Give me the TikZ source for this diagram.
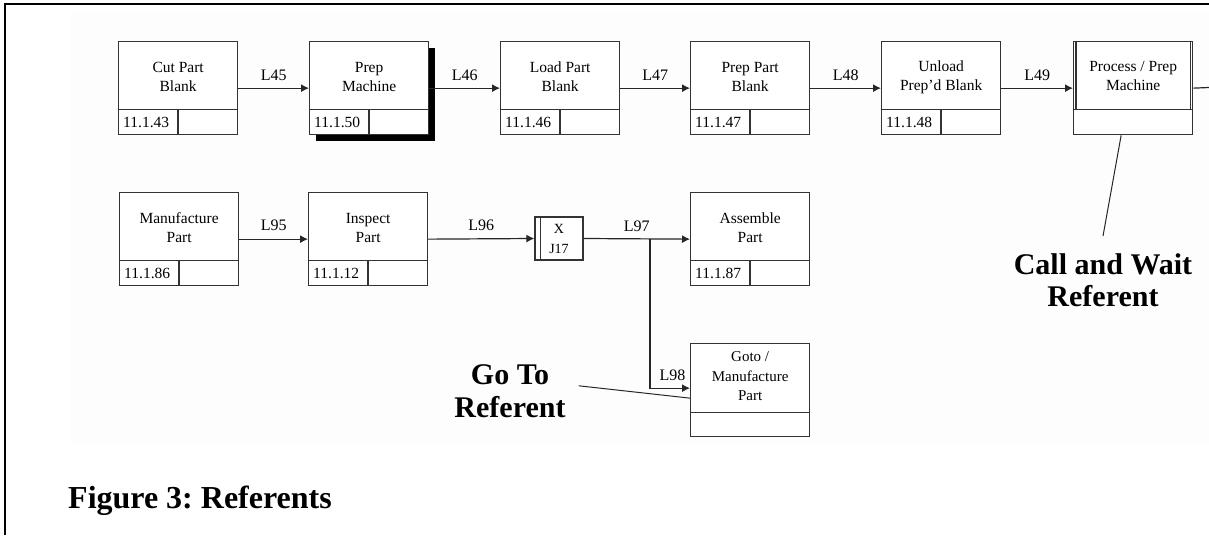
\documentclass[tikz,border=0pt]{standalone}
\usepackage{fontspec}
\setmainfont{Liberation Serif}
\usetikzlibrary{arrows.meta,shadows}
\frenchspacing
\tikzset{
  boxs/.style={draw=black!80, line width=1.3pt, fill=white, minimum width=119pt,
    minimum height=93pt, inner sep=0pt, anchor=north west},
  dline/.style={draw=black!80, line width=1.3pt},
  btext/.style={font=\fontsize{15.5}{19}\selectfont, align=center, inner sep=0pt},
  idtext/.style={font=\fontsize{15.5}{18}\selectfont, inner sep=1pt, anchor=west},
  flow/.style={draw=black!85, line width=1.2pt, -{Latex[length=8pt,width=8pt]}},
  plain/.style={draw=black!85, line width=1.2pt},
  lbl/.style={font=\fontsize{16}{18}\selectfont, inner sep=2pt},
  callout/.style={font=\bfseries\fontsize{30}{33}\selectfont, align=center, inner sep=1pt},
  leader/.style={draw=black!85, line width=1pt}
}
\newcommand{\idefbox}[6][]{%
  \node[boxs,#1] (#2) at (#3,#4) {};
  \draw[dline] ([yshift=26pt]#2.south west) -- ([yshift=26pt]#2.south east);
  \draw[dline] ([xshift=60pt,yshift=26pt]#2.south west) -- ([xshift=60pt]#2.south west);
  \node[btext] (#2t) at ([yshift=-36pt]#2.north) {#5};
  \node[idtext] (#2id) at ([xshift=4pt,yshift=13pt]#2.south west) {#6};
}
\begin{document}
\begin{tikzpicture}[x=1pt,y=-1pt]
\useasboundingbox (0,0) rectangle (1209,535);
\fill[gray!1.5] (70,12) rectangle (1209,443);
\draw[line width=1.5pt] (1209,4) -- (5,4) -- (5,535);

% top row
\idefbox{cut}{118}{41}{Cut Part\\Blank}{11.1.43}
\idefbox[drop shadow={shadow xshift=6pt, shadow yshift=-6pt, fill=black, opacity=1}]{prep}{309}{41}{Prep\\Machine}{11.1.50}
\idefbox{load}{500}{41}{Load Part\\Blank}{11.1.46}
\idefbox{prepb}{690}{41}{Prep Part\\Blank}{11.1.47}
\idefbox{unload}{881}{41}{Unload\\Prep'd Blank}{11.1.48}

\node[boxs] (proc) at (1073,41) {};
\draw[dline] ([yshift=26pt]proc.south west) -- ([yshift=26pt]proc.south east);
\draw[dline] ([xshift=3pt]proc.north west) -- ([xshift=3pt,yshift=26pt]proc.south west);
\draw[dline] ([xshift=-3pt]proc.north east) -- ([xshift=-3pt,yshift=26pt]proc.south east);
\node[btext] (proct) at ([yshift=-35pt]proc.north) {Process / Prep\\Machine};

\draw[flow] (cut.east) -- (prep.west) node[lbl, midway, above=5pt] {L45};
\draw[flow] (prep.east) -- (load.west) node[lbl, midway, above=5pt] {L46};
\draw[flow] (load.east) -- (prepb.west) node[lbl, midway, above=5pt] {L47};
\draw[flow] (prepb.east) -- (unload.west) node[lbl, midway, above=5pt] {L48};
\draw[flow] (unload.east) -- (proc.west) node[lbl, midway, above=5pt] {L49};
\coordinate (procout) at (1209,87.5);
\draw[plain] (proc.east) -- (procout);

% second row
\idefbox{mfg}{119}{192}{Manufacture\\Part}{11.1.86}
\idefbox{insp}{308}{192}{Inspect\\Part}{11.1.12}
\idefbox{asm}{690}{192}{Assemble\\Part}{11.1.87}

\node[draw=black!80, line width=1.3pt, fill=white, minimum width=48pt, minimum height=43pt,
  inner sep=0pt, font=\fontsize{14}{20}\selectfont, align=center] (jx) at (559,238.5) {X\\J17};
\draw[dline] ([xshift=6pt]jx.north west) -- ([xshift=6pt]jx.south west);

\draw[flow] (mfg.east) -- (insp.west) node[lbl, midway, above=6pt] {L95};
\draw[flow] (insp.east) -- (jx.west) node[lbl, midway, above=6pt] {L96};
\draw[flow] (jx.east) -- (asm.west) node[lbl, midway, above=5pt] {L97};

% goto box
\node[boxs] (goto) at (690,343) {};
\draw[dline] ([yshift=25pt]goto.south west) -- ([yshift=25pt]goto.south east);
\node[btext, font=\fontsize{15}{19.5}\selectfont] (gotot) at ([yshift=-33.5pt]goto.north) {Goto /\\Manufacture\\Part};

\coordinate (br) at (650,238.5);
\draw[flow] (br) |- ([yshift=2pt]goto.west) node[lbl, pos=0.78, above=5pt] {L98};

% callouts
\node[callout, anchor=north] (gtl) at (510,363) {Go To\\Referent};
\draw[leader] ([xshift=12pt,yshift=5pt]gtl.east) -- ([yshift=-8pt]goto.west);

\node[callout, font=\bfseries\fontsize{30}{32}\selectfont, anchor=north] (cw) at (1103,252) {Call and Wait\\Referent};
\draw[leader] ([xshift=-12pt]proc.south) -- ([yshift=16pt]cw.north);

% caption
\node[anchor=base west, inner sep=0pt, font=\bfseries\fontsize{32}{36}\selectfont] (cap) at (68,508.5) {Figure 3: Referents};
\end{tikzpicture}
\end{document}
